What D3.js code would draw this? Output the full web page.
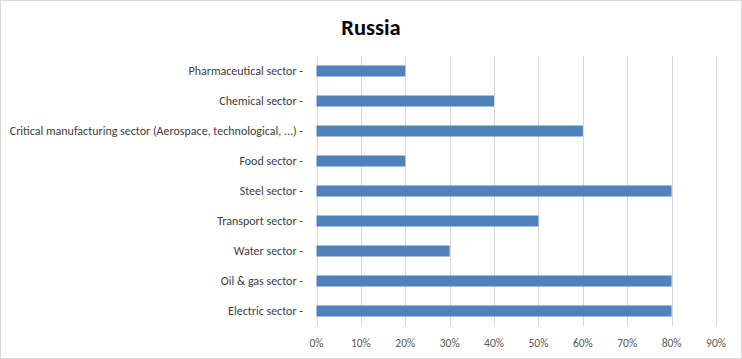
<!DOCTYPE html>
<html><head><meta charset="utf-8">
<script src="https://cdn.jsdelivr.net/npm/d3@7"></script>
<style>body{margin:0;background:#fff}svg{display:block}</style>
</head><body>
<script>
const categories = ["Pharmaceutical sector","Chemical sector","Critical manufacturing sector (Aerospace, technological, ...)","Food sector","Steel sector","Transport sector","Water sector","Oil & gas sector","Electric sector"];
const values = [0.20,0.40,0.60,0.20,0.80,0.50,0.30,0.80,0.80];
const ticks = [0,0.1,0.2,0.3,0.4,0.5,0.6,0.7,0.8,0.9];
const title = "Russia";

const W=742,H=359;
const svg=d3.select("body").append("svg").attr("width",W).attr("height",H);
svg.append("rect").attr("x",0.5).attr("y",0.5).attr("width",W-1).attr("height",H-1).attr("fill","#fff").attr("stroke","#d9d9d9");
const x=d3.scaleLinear().domain([0,0.9]).range([316.5,716]);
const y=d3.scaleBand().domain(categories).range([56,326]).paddingInner(0.633).paddingOuter(0.3165);
const font="Calibri, Carlito, Lato, sans-serif";
svg.append("text").attr("x",371).attr("y",35).attr("text-anchor","middle").attr("font-family",font).attr("font-weight","bold").attr("font-size",22.5).attr("fill","#000").text(title);
svg.append("g").selectAll("line").data(ticks).join("line").attr("x1",d=>Math.round(x(d))+0.5).attr("x2",d=>Math.round(x(d))+0.5).attr("y1",56).attr("y2",326).attr("stroke","#d9d9d9");
svg.append("g").selectAll("rect").data(categories).join("rect").attr("x",x(0)).attr("y",d=>y(d)).attr("width",(d,i)=>x(values[i])-x(0)).attr("height",y.bandwidth()).attr("fill","#4f81bd");
svg.append("g").selectAll("text").data(categories).join("text").attr("x",303).attr("y",d=>y(d)+y.bandwidth()/2).attr("dy","0.35em").attr("text-anchor","end").attr("font-family",font).attr("font-size",12).attr("fill","#404040").text(d=>d+" -");
svg.append("g").selectAll("text").data(ticks).join("text").attr("x",d=>x(d)).attr("y",347).attr("text-anchor","middle").attr("font-family",font).attr("font-size",11.5).attr("fill","#595959").text(d=>d3.format(".0%")(d));
</script>
</body></html>
